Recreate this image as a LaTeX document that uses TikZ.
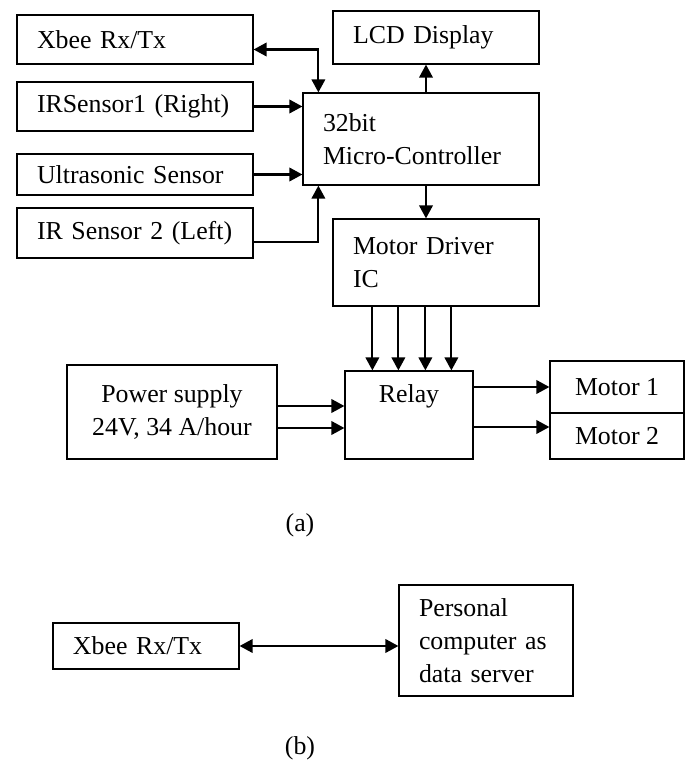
\documentclass[tikz,border=0pt]{standalone}
\usepackage{fontspec}
\setmainfont{Liberation Serif}
\usetikzlibrary{arrows.meta,positioning,calc}

\begin{document}
\begin{tikzpicture}[font=\fontsize{14.7}{18.8}\selectfont,
  blk/.style={draw, line width=0.7pt, inner sep=0pt},
  lblk/.style={blk, align=left, inner xsep=0.4cm},
  cblk/.style={blk, align=center},
  arr/.style={line width=1.2pt, -{Triangle[length=0.26cm,width=0.27cm]}},
  biarr/.style={line width=1.2pt, {Triangle[length=0.26cm,width=0.27cm]}-{Triangle[length=0.26cm,width=0.27cm]}}]
  \useasboundingbox (0,0) rectangle (13.78,15.2);

  % (a) robot side
  \node[lblk, text width=3.92cm, minimum height=0.98cm] (xbee) at (2.70,14.41) {Xbee Rx/Tx};
  \node[lblk, text width=3.92cm, minimum height=0.98cm] (irright) at (2.70,13.07) {\mbox{IRSensor1 (Right)}};
  \node[lblk, text width=3.92cm, minimum height=0.82cm] (ultra) at (2.70,11.71) {\mbox{Ultrasonic Sensor}};
  \node[lblk, text width=3.92cm, minimum height=1.0cm] (irleft) at (2.70,10.54) {\mbox{IR Sensor 2 (Left)}};
  \node[lblk, text width=3.92cm, minimum height=1.84cm] (mc) at (8.42,12.42) {32bit\\Micro-Controller};
  \node[lblk, text width=3.32cm, minimum height=1.06cm] (lcd) at (8.72,14.45) {LCD Display};
  \node[lblk, text width=3.32cm, minimum height=1.74cm] (mdrv) at (8.72,9.95) {Motor Driver\\IC};
  \node[cblk, minimum width=4.2cm, minimum height=1.88cm] (power) at (3.44,6.96) {Power supply\\24V, 34 A/hour};
  \node[cblk, minimum width=2.56cm, minimum height=1.76cm] (relay) at (8.18,6.90) {Relay\\\strut};
  \node[cblk, minimum width=2.68cm, minimum height=1.04cm] (motor1) at (12.34,7.46) {Motor 1};
  \node[cblk, minimum width=2.68cm, minimum height=0.92cm] (motor2) at (12.34,6.48) {Motor 2};
  \node (capa) at (6.0,4.7) {(a)};

  % (b) server side
  \node[lblk, text width=2.92cm, minimum height=0.92cm] (xbeeb) at (2.92,2.28) {Xbee Rx/Tx};
  \node[lblk, text width=2.68cm, minimum height=2.22cm] (pc) at (9.72,2.39) {Personal\\\mbox{computer as}\\\mbox{data server}};
  \node (capb) at (6.0,0.24) {(b)};

  % connectors
  \draw[biarr] ([yshift=-0.2cm]xbee.east) -| ([xshift=0.32cm]mc.north west);
  \draw[arr] (irright.east) -- (irright.east -| mc.west);
  \draw[arr] (ultra.east) -- (ultra.east -| mc.west);
  \draw[arr] ([yshift=-0.18cm]irleft.east) -| ([xshift=0.32cm]mc.south west);
  \coordinate (mctop) at ([xshift=0.1cm]mc.north);
  \coordinate (mcbot) at ([xshift=0.1cm]mc.south);
  \draw[arr] (mctop) -- (mctop |- lcd.south);
  \draw[arr] (mcbot) -- (mcbot |- mdrv.north);
  \foreach \x [count=\i] in {0.8,1.32,1.86,2.38}{
    \coordinate (drv\i) at ([xshift=\x cm]mdrv.south west);
    \draw[arr] (drv\i) -- (drv\i |- relay.north);
  }
  \coordinate (pw1) at ([yshift=0.12cm]power.east);
  \coordinate (pw2) at ([yshift=-0.32cm]power.east);
  \draw[arr] (pw1) -- (pw1 -| relay.west);
  \draw[arr] (pw2) -- (pw2 -| relay.west);
  \coordinate (m2in) at ([yshift=0.18cm]motor2.west);
  \draw[arr] (relay.east |- motor1.west) -- (motor1.west);
  \draw[arr] (relay.east |- m2in) -- (m2in);
  \draw[biarr] (xbeeb.east) -- (xbeeb.east -| pc.west);
\end{tikzpicture}
\end{document}
